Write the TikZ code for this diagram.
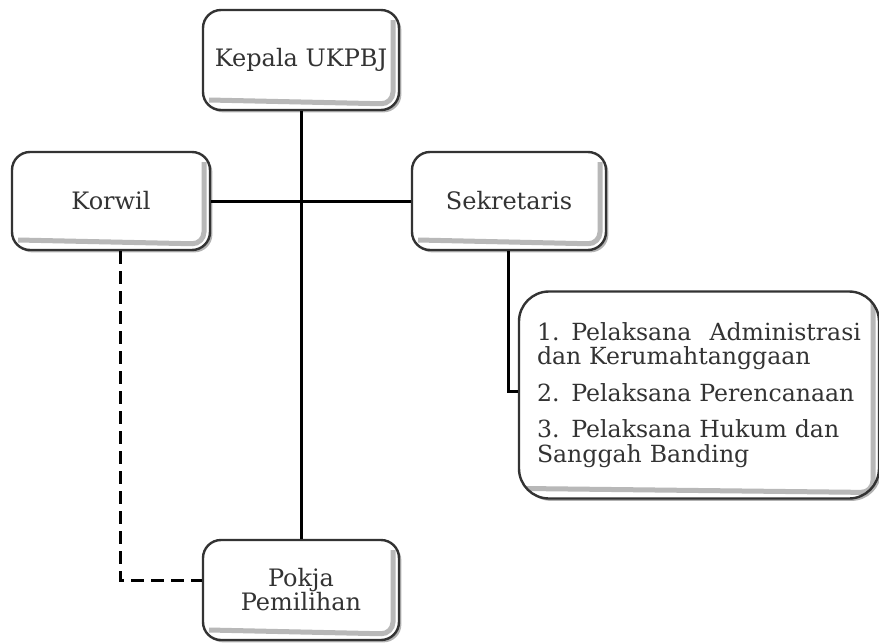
\documentclass[tikz,border=0pt]{standalone}
\usepackage{fontspec}
\setmainfont{DejaVu Serif}
\usetikzlibrary{shadows}
\tikzset{
  unitbox/.style={draw=black!80, line width=1.2pt, fill=white, rounded corners=9pt,
    minimum width=98pt, minimum height=50pt, align=center, text=black!80,
    font=\fontsize{12}{14}\selectfont,
    drop shadow={shadow xshift=1.2pt, shadow yshift=-1.2pt, opacity=.5, fill=black!60},
    path picture={\draw[black!28, line width=2.5pt, rounded corners=6pt]
      ([shift={(3pt,5pt)}]path picture bounding box.south west) --
      ([shift={(-3pt,3pt)}]path picture bounding box.south east) --
      ([shift={(-3pt,-5pt)}]path picture bounding box.north east);}},
  link/.style={line width=1.5pt, black},
  dashlink/.style={line width=1.5pt, black, dash pattern=on 6.5pt off 3.5pt}
}
\begin{document}
\begin{tikzpicture}[x=0.5pt, y=-0.5pt]
  \useasboundingbox (0,0) rectangle (879,643);
  \node[unitbox] (kepala) at (301,60) {Kepala UKPBJ};
  \node[unitbox, minimum width=99pt, minimum height=49pt] (korwil) at (111,201) {Korwil};
  \node[unitbox, minimum width=97pt, minimum height=49pt] (sekretaris) at (509,201) {Sekretaris};
  \node[unitbox, minimum width=180pt, minimum height=103.5pt, rounded corners=15pt,
    text width=162pt, align=left, font=\fontsize{11.8}{12.3}\selectfont] (tugas) at (699,395)
    {1. Pelaksana\hfill Administrasi\\ dan Kerumahtanggaan\\[6pt]
     2. Pelaksana Perencanaan\\[6pt]
     3. Pelaksana Hukum dan\\ Sanggah Banding};
  \node[unitbox] (pokja) at (301,590) {Pokja\\[-2pt]Pemilihan};
  % garis komando
  \draw[link] (kepala.south) -- (pokja.north);
  \draw[link] (korwil.east) -- (sekretaris.west);
  \draw[link] ([xshift=-0.5pt]sekretaris.south) |- ([yshift=2pt]tugas.west);
  % garis koordinasi
  \coordinate (korwilbawah) at ([xshift=4.5pt]korwil.south);
  \draw[dashlink] (korwilbawah) |- ([yshift=5pt]pokja.west);
\end{tikzpicture}
\end{document}
